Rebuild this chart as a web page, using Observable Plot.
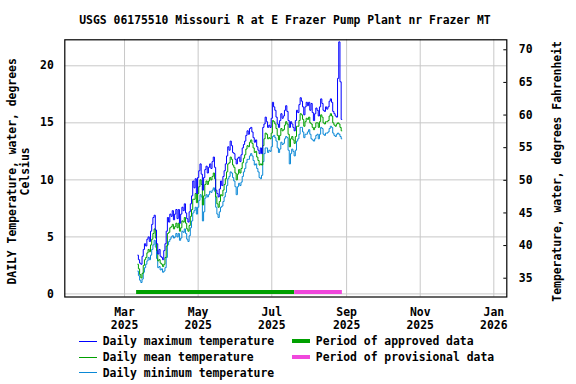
<!DOCTYPE html>
<html>
<head>
<meta charset="utf-8">
<script src="https://cdn.jsdelivr.net/npm/d3@7"></script>
<script src="https://cdn.jsdelivr.net/npm/@observablehq/plot@0.6"></script>
<style>
  body { margin: 0; background: #fff; }
  #wrap { position: relative; width: 576px; height: 384px; overflow: hidden;
          font-family: "DejaVu Sans Mono", monospace; font-weight: bold; font-size: 11.4px; color: #000; }
  #title { height: 32px; box-sizing: border-box; padding-top: 13px; line-height: 14px;
           padding-left: 64px; width: 506px; text-align: center; white-space: nowrap; }
  #chart svg { display: block; }
  #legend { position: relative; height: 52px; }
  .item { position: absolute; height: 16px; line-height: 16px; white-space: nowrap; }
  .sw { position: absolute; }
</style>
</head>
<body>
<div id="wrap">
  <div id="title"></div>
  <div id="chart"></div>
  <div id="legend"></div>
</div>
<script>
// ---------------- data ----------------
const titleText = "USGS 06175510 Missouri R at E Frazer Pump Plant nr Frazer MT";
const firstDay = "2025-03-12";   // first daily value; one value per day after that

const maxC = [
  3.4, 3.0, 2.7, 2.6, 3.3, 3.9, 4.4, 4.2, 4.8, 5.0,
  4.6, 5.5, 6.1, 6.7, 6.9, 5.6, 4.4, 3.5, 3.9, 3.3,
  3.2, 3.0, 3.8, 4.4, 5.5, 6.7, 6.3, 7.0, 6.8, 7.3,
  6.5, 7.0, 7.4, 6.6, 7.4, 6.2, 7.0, 7.6, 7.3, 7.9,
  7.1, 6.6, 6.3, 7.2, 7.9, 8.6, 9.9, 9.3, 10.1, 8.8,
  10.2, 10.8, 11.4, 10.5, 9.1, 10.2, 10.9, 11.2, 10.6, 11.1,
  11.4, 11.0, 11.6, 12.0, 11.1, 9.1, 8.8, 8.5, 9.2, 9.9,
  9.5, 10.3, 10.8, 11.4, 12.1, 12.9, 12.6, 13.4, 13.0, 12.4,
  12.3, 11.8, 11.4, 11.9, 12.0, 11.6, 12.2, 12.8, 13.1, 13.4,
  13.9, 14.3, 14.0, 14.5, 14.6, 14.2, 13.7, 13.3, 13.5, 12.9,
  12.6, 12.3, 12.8, 12.3, 14.6, 14.9, 15.5, 15.1, 14.6, 14.8,
  14.6, 15.4, 16.8, 16.4, 16.1, 15.5, 14.9, 14.6, 15.2, 15.8,
  15.4, 15.6, 16.1, 16.5, 16.0, 15.2, 14.6, 15.1, 14.9, 14.6,
  14.3, 15.2, 16.1, 15.9, 16.6, 17.2, 16.9, 16.4, 15.7, 16.4,
  16.8, 16.5, 16.8, 16.1, 16.7, 15.9, 15.2, 15.8, 16.3, 16.1,
  15.6, 16.4, 17.1, 16.7, 16.1, 16.0, 16.4, 16.2, 16.4, 16.9,
  17.1, 16.8, 16.0, 15.8, 15.6, 15.5, 18.9, 22.1, 18.6, 15.3
];
const meanC = [
  2.6, 2.2, 1.7, 1.4, 1.8, 2.5, 3.0, 3.2, 3.6, 3.9,
  3.7, 4.3, 4.8, 5.3, 5.7, 4.9, 3.8, 2.9, 3.0, 2.7,
  2.6, 2.4, 2.6, 3.2, 4.2, 5.3, 5.4, 5.8, 5.9, 6.1,
  5.7, 5.9, 6.2, 5.8, 6.2, 5.5, 5.8, 6.4, 6.3, 6.7,
  6.2, 5.7, 5.5, 6.0, 6.8, 7.4, 8.3, 8.3, 8.8, 8.0,
  8.8, 9.4, 10.0, 9.6, 7.8, 8.6, 9.6, 9.9, 9.6, 9.9,
  10.2, 10.0, 10.3, 10.6, 10.1, 8.5, 7.9, 7.6, 8.1, 8.7,
  8.6, 9.1, 9.6, 10.1, 10.7, 11.4, 11.5, 12.0, 11.8, 11.3,
  11.1, 10.6, 10.0, 10.5, 10.9, 10.6, 11.0, 11.5, 11.9, 12.2,
  12.7, 13.0, 12.9, 13.3, 13.5, 13.2, 12.8, 12.4, 12.5, 12.0,
  11.7, 11.3, 11.4, 11.3, 13.0, 13.6, 14.1, 14.0, 13.6, 13.7,
  13.6, 14.1, 15.2, 15.1, 14.9, 14.5, 13.9, 13.5, 13.9, 14.5,
  14.3, 14.4, 14.8, 15.1, 14.9, 14.0, 12.9, 13.6, 13.8, 13.5,
  13.2, 13.8, 14.7, 14.7, 15.2, 15.8, 15.7, 15.3, 14.7, 15.1,
  15.4, 15.3, 15.5, 15.0, 14.9, 14.6, 14.4, 14.6, 15.0, 15.0,
  14.6, 15.1, 15.7, 15.5, 15.0, 14.9, 15.1, 15.1, 15.2, 15.6,
  15.8, 15.6, 15.0, 14.8, 14.7, 14.9, 15.0, 14.9, 14.6, 14.3
];
const minC = [
  2.0, 1.6, 1.2, 1.0, 1.3, 1.9, 2.3, 2.6, 2.9, 3.2,
  3.0, 3.4, 3.9, 4.3, 4.7, 4.1, 3.1, 2.3, 2.4, 2.1,
  2.2, 1.9, 2.0, 2.3, 3.2, 4.3, 4.6, 4.8, 5.0, 5.1,
  4.9, 5.0, 5.3, 5.0, 5.3, 4.7, 4.9, 5.5, 5.4, 5.7,
  5.3, 4.8, 4.6, 5.1, 5.8, 6.4, 7.1, 7.3, 7.6, 7.0,
  7.6, 8.2, 8.7, 8.5, 6.4, 7.2, 8.4, 8.7, 8.5, 8.7,
  9.0, 8.9, 9.1, 9.3, 9.0, 7.6, 7.0, 6.7, 7.2, 7.6,
  7.7, 8.1, 8.5, 8.9, 9.5, 10.1, 10.3, 10.7, 10.6, 10.2,
  9.9, 9.4, 8.7, 9.4, 9.7, 9.5, 9.8, 10.3, 10.7, 11.0,
  11.5, 11.8, 11.8, 12.1, 12.3, 12.1, 11.7, 11.3, 11.4, 11.0,
  10.7, 10.2, 10.1, 10.4, 11.6, 12.3, 12.8, 12.8, 12.4, 12.6,
  12.5, 12.9, 13.8, 13.9, 13.7, 13.4, 12.8, 12.4, 12.7, 13.3,
  13.1, 13.2, 13.6, 13.8, 13.7, 12.6, 11.4, 12.3, 12.7, 12.5,
  12.1, 12.6, 13.4, 13.6, 14.0, 14.6, 14.6, 14.2, 13.7, 14.0,
  14.0, 14.2, 14.4, 14.0, 13.6, 13.5, 13.4, 13.6, 13.9, 14.0,
  13.6, 14.0, 14.6, 14.5, 14.0, 13.9, 14.1, 14.1, 14.2, 14.5,
  14.7, 14.6, 14.1, 13.9, 13.8, 14.0, 14.1, 14.0, 13.8, 13.6
];

const periodLabels = ["Period of approved data", "Period of provisional data"];
const periodStarts = ["2025-03-11", "2025-07-20"];
const periodEnds   = ["2025-07-20", "2025-08-28T12:00"];

const xTickDates  = ["2025-03-01", "2025-05-01", "2025-07-01", "2025-09-01", "2025-11-01", "2026-01-01"];
const xTickLabels = ["Mar\n2025", "May\n2025", "Jul\n2025", "Sep\n2025", "Nov\n2025", "Jan\n2026"];
const cTicks = [0, 5, 10, 15, 20];
const fTicks = [35, 40, 45, 50, 55, 60, 65, 70];

const xDomain = ["2025-01-10T12:00", "2026-01-11T18:00"];
const cDomain = [-0.27, 22.28];
const fDomain = [32.12, 71.53];

const leftTitle1 = "DAILY Temperature, water, degrees";
const leftTitle2 = "Celsius";
const rightTitle = "Temperature, water, degrees Fahrenheit";

const seriesLabels = ["Daily maximum temperature", "Daily mean temperature", "Daily minimum temperature"];

// ---------------- styles ----------------
const colMax = "#0000ff", colMean = "#00a000", colMin = "#0a88d6";
const colApproved = "#00a000", colProvisional = "#f048dc";
const gridCol = "#c8c8c8";

// ---------------- build ----------------
const utc = s => new Date(s + (s.length <= 10 ? "T00:00Z" : "Z"));
const d0 = utc(firstDay);
const rows = maxC.map((v, i) => ({
  date: d3.utcDay.offset(d0, i), max: v, mean: meanC[i], min: minC[i]
}));
const periods = periodLabels.map((l, i) => ({label: l, start: utc(periodStarts[i]), end: utc(periodEnds[i])}));
const xTicks = xTickDates.map(utc);
const xLabelMap = new Map(xTicks.map((d, i) => [+d, xTickLabels[i]]));
const fToC = d3.scaleLinear(fDomain, cDomain);
const fTickPos = fTicks.map(f => fToC(f));

const W = 576, H = 300, ML = 64.3, MR = 69.7, MT = 7.3, MB = 35.5;
const plotW = W - ML - MR, plotH = H - MT - MB;

document.getElementById("title").textContent = titleText;

const chart = Plot.plot({
  width: W, height: H,
  marginLeft: ML, marginRight: MR, marginTop: MT, marginBottom: MB,
  style: {fontFamily: '"DejaVu Sans Mono", monospace', fontWeight: "bold", fontSize: "11.4px",
          background: "white", color: "black", overflow: "visible"},
  x: {type: "utc", domain: xDomain.map(utc)},
  y: {domain: cDomain},
  marks: [
    Plot.gridY(cTicks, {stroke: gridCol, strokeOpacity: 1, strokeWidth: 1}),
    Plot.gridX(xTicks, {stroke: gridCol, strokeOpacity: 1, strokeWidth: 1}),
    Plot.rect(periods, {x1: "start", x2: "end", fill: (d, i) => i === 0 ? colApproved : colProvisional,
                        insetTop: plotH - 6.5, insetBottom: 2.5}),
    Plot.lineY(rows, {x: "date", y: "min", stroke: colMin, strokeWidth: 1, curve: "step"}),
    Plot.lineY(rows, {x: "date", y: "mean", stroke: colMean, strokeWidth: 1, curve: "step"}),
    Plot.lineY(rows, {x: "date", y: "max", stroke: colMax, strokeWidth: 1, curve: "step"}),
    Plot.ruleY(fTickPos, {insetLeft: plotW - 3, stroke: "black"}),
    Plot.frame({stroke: "black", strokeWidth: 1.2}),
    Plot.axisY(cTicks, {anchor: "left", tickSize: 0, tickPadding: 11, label: null}),
    Plot.axisY(fTickPos, {anchor: "right", tickSize: 0, tickPadding: 12, label: null,
                          tickFormat: d => String(Math.round(fToC.invert(d)))}),
    Plot.axisX(xTicks, {anchor: "bottom", tickSize: 0, tickPadding: 10, label: null, lineHeight: 1.15,
                        tickFormat: d => xLabelMap.get(+d)}),
    Plot.text([leftTitle1], {frameAnchor: "left", textAnchor: "middle", dx: -52.3, dy: 3, rotate: -90}),
    Plot.text([leftTitle2], {frameAnchor: "left", textAnchor: "middle", dx: -39.3, dy: 3, rotate: -90}),
    Plot.text([rightTitle], {frameAnchor: "right", textAnchor: "middle", dx: 51, dy: 3, rotate: -90})
  ]
});
document.getElementById("chart").appendChild(chart);

// ---------------- legend ----------------
const legend = document.getElementById("legend");
const rowTop = [0.7, 16.7, 32.5];
const lineCols = [colMax, colMean, colMin];
seriesLabels.forEach((lab, i) => {
  const sw = document.createElement("div");
  sw.className = "sw";
  sw.style.cssText = `left:79px;top:${Math.round(rowTop[i] + 7.8)}px;width:18px;height:1px;background:${lineCols[i]}`;
  legend.appendChild(sw);
  const t = document.createElement("div");
  t.className = "item";
  t.style.left = "102.7px"; t.style.top = rowTop[i] + "px";
  t.textContent = lab;
  legend.appendChild(t);
});
const perCols = [colApproved, colProvisional];
periods.forEach((p, i) => {
  const sw = document.createElement("div");
  sw.className = "sw";
  sw.style.cssText = `left:292.3px;top:${rowTop[i] + 6}px;width:18px;height:4px;background:${perCols[i]}`;
  legend.appendChild(sw);
  const t = document.createElement("div");
  t.className = "item";
  t.style.left = "315.8px"; t.style.top = rowTop[i] + "px";
  t.textContent = p.label;
  legend.appendChild(t);
});
</script>
</body>
</html>
